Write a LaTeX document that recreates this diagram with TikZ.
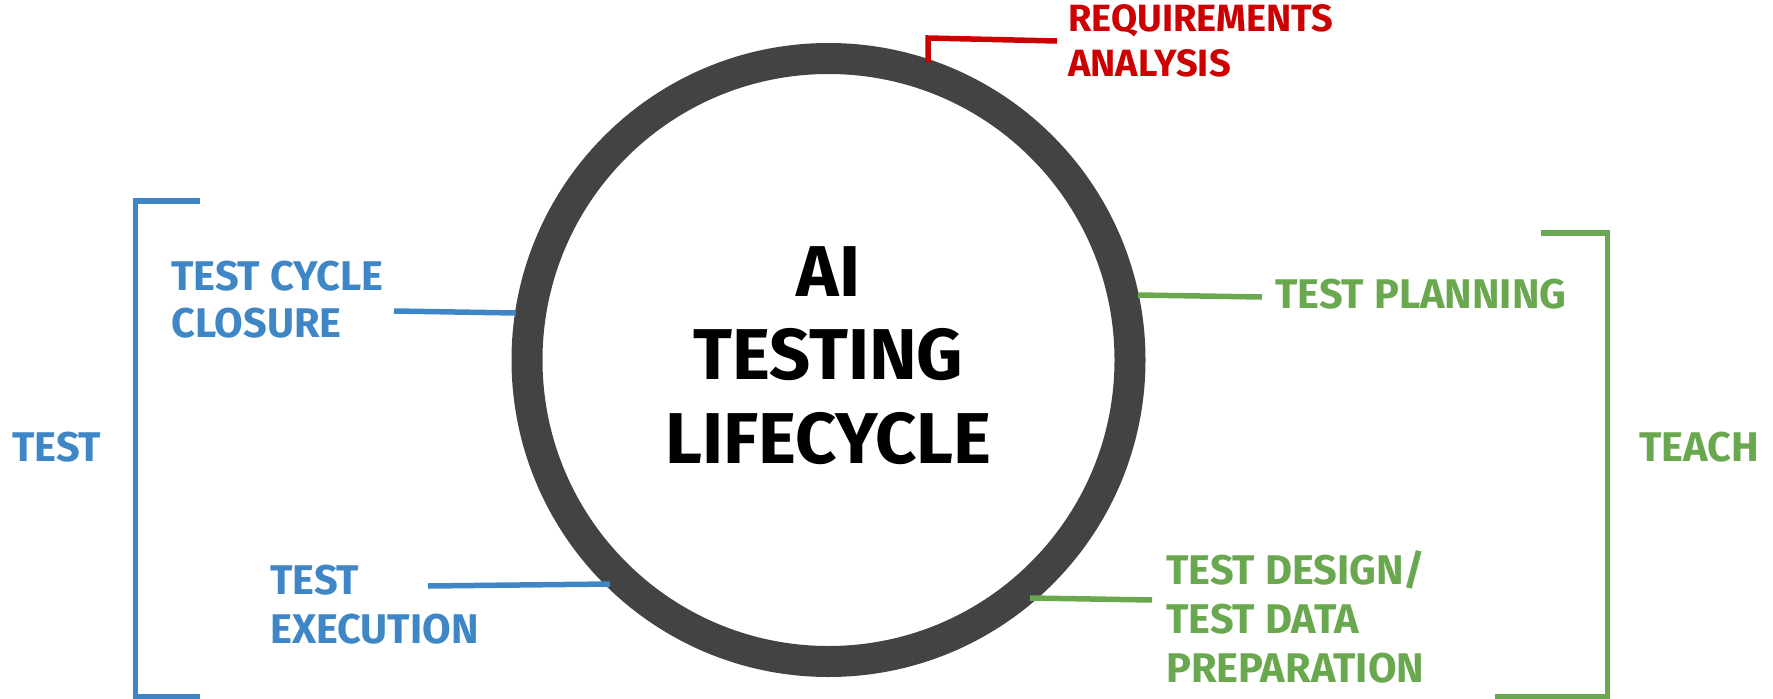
\documentclass[tikz,border=0pt]{standalone}
\usepackage{fontspec}
\setmainfont{Fira Sans}
\definecolor{ringgray}{HTML}{434343}
\definecolor{tblue}{HTML}{3E86C6}
\definecolor{tgreen}{HTML}{6AA84F}
\definecolor{tred}{HTML}{CC0000}
\tikzset{
  lbl/.style={inner sep=0pt, anchor=north west, align=left, font=\bfseries\fontsize{41.5}{49}\selectfont},
  bluelbl/.style={lbl, text=tblue},
  greenlbl/.style={lbl, text=tgreen},
  redlbl/.style={lbl, text=tred, font=\bfseries\fontsize{38}{45}\selectfont},
  conn/.style={line width=5.5pt},
  bracketline/.style={line width=5.5pt, line join=miter},
}
\begin{document}
\begin{tikzpicture}[x=1pt,y=-1pt]
\useasboundingbox (0,0) rectangle (1773,699);
% ring
\node[circle, draw=ringgray, line width=31pt, minimum size=603pt, inner sep=0pt] (ring) at (828.5,360) {};
\node[inner sep=0pt, anchor=north, align=center, font=\bfseries\fontsize{72}{83.5}\selectfont] (title) at (828.5,246) {AI\\TESTING\\LIFECYCLE};
% red
\node[redlbl] (req) at (1068,4) {REQUIREMENTS\\ANALYSIS};
\coordinate (r1) at (928,62);
\coordinate (r2) at (928,38);
\coordinate (r3) at (1057,41);
\draw[tred, conn, line join=miter] (r1) -- (r2) -- (r3);
% blue
\node[bluelbl, font=\bfseries\fontsize{41.5}{47}\selectfont] (closure) at (171,261) {TEST CYCLE\\CLOSURE};
\node[bluelbl] (exec) at (270,565) {TEST\\EXECUTION};
\node[bluelbl] (test) at (12,432) {TEST};
\coordinate (b1a) at (394,311);
\coordinate (b1b) at (516,313);
\coordinate (b2a) at (428,586);
\coordinate (b2b) at (610,584);
\draw[tblue, conn] (b1a) -- (b1b);
\draw[tblue, conn] (b2a) -- (b2b);
\coordinate (bt) at (200,201);
\coordinate (btc) at (135.5,201);
\coordinate (bbc) at (135.5,696.5);
\coordinate (bb) at (200,696.5);
\draw[tblue, bracketline] (bt) -- (btc) -- (bbc) -- (bb);
% green
\node[greenlbl] (plan) at (1275,279) {TEST PLANNING};
\node[greenlbl] (design) at (1166,550) {TEST DESIGN/\\TEST DATA\\PREPARATION};
\node[greenlbl] (teach) at (1639,432) {TEACH};
\coordinate (g1a) at (1138,295);
\coordinate (g1b) at (1262,297);
\coordinate (g2a) at (1030,598);
\coordinate (g2b) at (1152,600);
\draw[tgreen, conn] (g1a) -- (g1b);
\draw[tgreen, conn] (g2a) -- (g2b);
\coordinate (gt) at (1541,233);
\coordinate (gtc) at (1607.5,233);
\coordinate (gbc) at (1607.5,696.5);
\coordinate (gb) at (1495,696.5);
\draw[tgreen, bracketline] (gt) -- (gtc) -- (gbc) -- (gb);
\end{tikzpicture}
\end{document}
